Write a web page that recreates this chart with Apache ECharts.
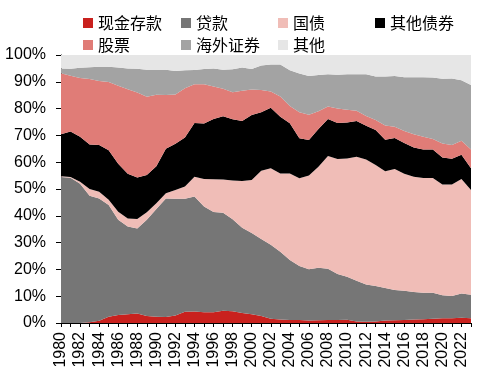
<!DOCTYPE html>
<html><head><meta charset="utf-8">
<script src="https://cdn.jsdelivr.net/npm/echarts@6/dist/echarts.min.js"></script>
<style>html,body{margin:0;padding:0;background:#fff}#c{width:478px;height:376px}</style>
</head><body><div id="c"></div>
<script>
const years = [];
for (let y = 1980; y <= 2023; y++) years.push(String(y));

const cash = [0,0,0,0.3,0.8,2.3,3,3.3,3.5,2.6,2.3,2.2,2.8,4.2,4.3,4,4,4.6,4.4,3.7,3.3,2.6,1.6,1.3,1.1,1.1,0.9,1,1.1,1.1,1.2,0.6,0.5,0.6,0.9,1,1.1,1.3,1.4,1.6,1.8,1.8,2,1.8];
const loans = [54.5,54.2,52,47.2,45.7,41.7,35.5,32.7,31.8,35.9,40.2,44.3,43.6,42.2,42.9,39.5,37.4,36.5,34.3,31.8,30.3,28.7,27.6,25.3,22.4,20.2,19.2,19.6,19.1,17.2,16.1,15.2,13.9,13.2,12.2,11.3,10.9,10.3,9.9,9.7,8.6,8.3,9,8.7];
const govt = [0.3,0.3,0.7,2.5,2.5,2,3,3,3.5,2.8,2.2,1.9,3.2,4.5,7.4,10.2,12.2,12.4,14.5,17.5,19.8,25.5,28.5,29.2,32.3,32.7,34.9,37.7,42.1,42.9,44.1,46.2,46.6,45.2,43.5,45.2,43.7,43,42.8,42.8,41.3,41.6,42.7,39.1];
const otherBonds = [15.6,17,16.8,16.6,17.4,18.5,17.9,16.7,15.5,13.9,13.8,16.6,17.3,18.3,20,20.7,22.5,23.6,22.8,22.4,24.2,21.8,22.6,21.2,18.7,14.9,13.3,14.1,13.8,13.4,13.4,13.4,12.6,13,11.8,11.5,11.5,10.9,10.6,10.6,10.1,9.6,9.1,8.1];
const stocks = [22.8,20.8,21.9,24.4,23.9,25.4,29.1,31.5,31.7,29.2,26.7,20.1,18.4,18.4,14.5,14.7,12.1,10.3,10.1,11.3,9.5,8.3,6.1,7.5,6.5,9.7,9.4,6.6,4.7,5.4,4.8,3.8,3.6,3.7,5.3,4.2,4.4,4.9,4.8,4,5.2,5.1,5.2,7];
const overseas = [1.8,2.6,3.8,4.4,5.3,5.7,6.8,7.8,8.9,10.1,9.3,9.4,8.7,6.7,5.3,5.7,6.8,7.1,8.6,8.6,7.7,9.2,10.1,12,13.3,14.5,14.5,13.5,12,12.6,13.2,13.6,15.6,16.3,18.3,19,20.1,21.3,22.2,22.9,24.1,24.8,22.6,24.1];
const others = [5,5.1,4.8,4.6,4.4,4.4,4.7,5,5.1,5.5,5.5,5.5,6,5.7,5.6,5.2,5,5.5,5.3,4.7,5.2,3.9,3.5,3.5,5.7,6.9,7.8,7.5,7.2,7.4,7.2,7.2,7.2,8,8,7.8,8.3,8.3,8.3,8.4,8.9,8.8,9.4,11.2];

const names = ['现金存款','贷款','国债','其他债券','股票','海外证券','其他'];
const colors = ['#C9211E','#767676','#F0BDB7','#000000','#E07C77','#A3A3A3','#E6E6E6'];
const seriesData = [cash, loans, govt, otherBonds, stocks, overseas, others];

const legendPos = [[83,15],[181,15],[278,15],[375,15],[83,37],[181,37],[278,37]];
const legends = names.map((n, i) => ({
  data: [n], left: legendPos[i][0], top: legendPos[i][1], padding: 0,
  itemWidth: 10, itemHeight: 10, icon: 'rect',
  textStyle: { fontSize: 16, color: '#000', fontFamily: 'Noto Sans CJK SC' }
}));

const chart = echarts.init(document.getElementById('c'), null, { renderer: 'canvas' });
chart.setOption({
  animation: false,
  color: colors,
  legend: legends,
  grid: { left: 61, right: 7, top: 55, bottom: 53 },
  xAxis: {
    type: 'category', data: years, boundaryGap: false,
    axisLine: { lineStyle: { color: '#000', width: 1 } },
    axisTick: { interval: 0, length: 4, lineStyle: { color: '#000' } },
    axisLabel: { interval: 1, rotate: 90, margin: 9, fontSize: 16, color: '#000', fontFamily: 'Liberation Sans' }
  },
  yAxis: {
    type: 'value', min: 0, max: 100, interval: 10,
    axisLine: { show: true, lineStyle: { color: '#000', width: 1 } },
    axisTick: { show: true, length: 5, lineStyle: { color: '#000' } },
    splitLine: { show: false },
    axisLabel: { formatter: '{value}%', margin: 15, fontSize: 16, color: '#000', fontFamily: 'Liberation Sans' }
  },
  series: names.map((n, i) => ({
    name: n, type: 'line', stack: 'total', data: seriesData[i],
    symbol: 'none', lineStyle: { width: 0 }, itemStyle: { color: colors[i] },
    areaStyle: { color: colors[i], opacity: 1 }
  }))
});
</script></body></html>
